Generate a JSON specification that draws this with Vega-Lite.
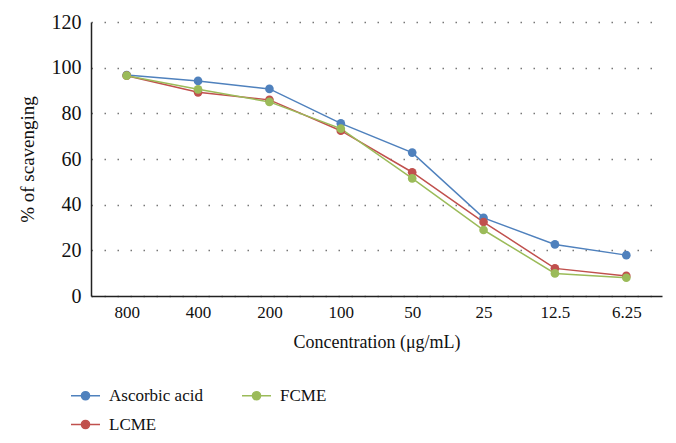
{
  "$schema": "https://vega.github.io/schema/vega-lite/v6.json",
  "width": 571,
  "height": 274,
  "autosize": "none",
  "padding": {"left": 91, "top": 22, "right": 14, "bottom": 147},
  "background": "white",
  "config": {
    "font": "Liberation Serif, serif",
    "view": {"stroke": null},
    "axis": {"labelFont": "Liberation Serif, serif", "titleFont": "Liberation Serif, serif"},
    "legend": {"labelFont": "Liberation Serif, serif"}
  },
  "data": {"values": [
    {"conc": "800", "series": "Ascorbic acid", "value": 96.8},
    {"conc": "400", "series": "Ascorbic acid", "value": 94.2},
    {"conc": "200", "series": "Ascorbic acid", "value": 90.7},
    {"conc": "100", "series": "Ascorbic acid", "value": 75.6},
    {"conc": "50", "series": "Ascorbic acid", "value": 62.8},
    {"conc": "25", "series": "Ascorbic acid", "value": 34.2},
    {"conc": "12.5", "series": "Ascorbic acid", "value": 22.6},
    {"conc": "6.25", "series": "Ascorbic acid", "value": 17.9},
    {"conc": "800", "series": "LCME", "value": 96.5},
    {"conc": "400", "series": "LCME", "value": 89.2},
    {"conc": "200", "series": "LCME", "value": 85.9},
    {"conc": "100", "series": "LCME", "value": 72.4},
    {"conc": "50", "series": "LCME", "value": 54.2},
    {"conc": "25", "series": "LCME", "value": 32.4},
    {"conc": "12.5", "series": "LCME", "value": 12.1},
    {"conc": "6.25", "series": "LCME", "value": 8.8},
    {"conc": "800", "series": "FCME", "value": 96.5},
    {"conc": "400", "series": "FCME", "value": 90.5},
    {"conc": "200", "series": "FCME", "value": 85.0},
    {"conc": "100", "series": "FCME", "value": 73.3},
    {"conc": "50", "series": "FCME", "value": 51.5},
    {"conc": "25", "series": "FCME", "value": 28.9},
    {"conc": "12.5", "series": "FCME", "value": 9.9},
    {"conc": "6.25", "series": "FCME", "value": 8.0}
  ]},
  "mark": {"type": "line", "strokeWidth": 1.5, "point": {"filled": true, "size": 75, "opacity": 1}},
  "encoding": {
    "x": {
      "field": "conc", "type": "ordinal",
      "sort": ["800", "400", "200", "100", "50", "25", "12.5", "6.25"],
      "axis": {
        "title": "Concentration (\u03bcg/mL)",
        "labelAngle": 0, "labelFontSize": 17, "labelColor": "#111", "labelPadding": 8,
        "labelFont": "Liberation Serif, serif", "titleFont": "Liberation Serif, serif", "labelFontWeight": "normal",
        "ticks": false, "domainColor": "#222", "domainWidth": 1.5,
        "titleFontSize": 18, "titleFontWeight": "normal", "titleColor": "#111", "titlePadding": 13,
        "grid": false
      }
    },
    "y": {
      "field": "value", "type": "quantitative",
      "scale": {"domain": [0, 120], "nice": false},
      "axis": {
        "title": "% of scavenging", "values": [0, 20, 40, 60, 80, 100, 120],
        "labelFont": "Liberation Serif, serif", "titleFont": "Liberation Serif, serif", "labelFontWeight": "normal",
        "labelFontSize": 20, "labelColor": "#111", "labelPadding": 10,
        "ticks": false, "domainColor": "#222", "domainWidth": 1.5,
        "gridColor": "#777", "gridDash": [1.5, 11.5], "gridWidth": 1.5,
        "titleFontSize": 19, "titleFontWeight": "normal", "titleColor": "#111", "titlePadding": 14
      }
    },
    "color": {
      "field": "series", "type": "nominal",
      "scale": {"domain": ["Ascorbic acid", "LCME", "FCME"], "range": ["#4F81BD", "#C0504D", "#9BBB59"]},
      "legend": {
        "title": null, "orient": "none", "legendX": -21, "legendY": 358,
        "columns": 2, "columnPadding": 36, "rowPadding": 5,
        "labelFontSize": 17, "labelColor": "#111", "labelOffset": 8, "labelFont": "Liberation Serif, serif",
        "symbolType": "M-1,0H1M-0.28,0A0.28,0.28 0 1,1 0.28,0A0.28,0.28 0 1,1 -0.28,0Z",
        "symbolSize": 841, "symbolStrokeWidth": 1.5,
        "encode": {"symbols": {"update": {"fill": {"scale": "color", "field": "value"}, "fillOpacity": {"value": 1}}}}
      }
    }
  }
}
